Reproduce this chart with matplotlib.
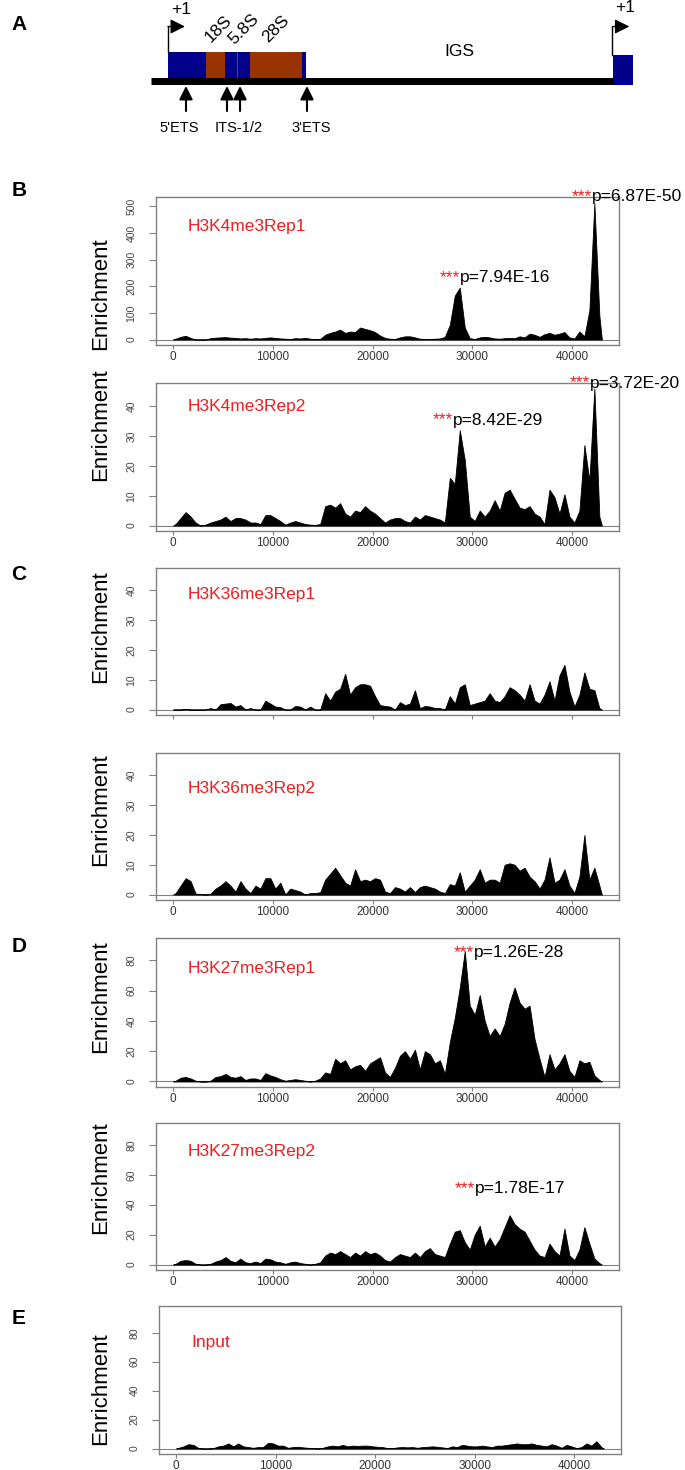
import matplotlib
matplotlib.use("Agg")
import matplotlib.pyplot as plt
import numpy as np
from matplotlib.patches import Rectangle

plt.rcParams['font.family'] = ['Liberation Sans', 'DejaVu Sans']

# ---- rDNA unit (bp) ----
region_names = ["5'ETS", "18S", "ITS1", "5.8S", "ITS2", "28S", "3'ETS"]
region_start = [0, 3657, 5528, 6623, 6780, 7935, 12970]
region_end = [3656, 5527, 6622, 6779, 7934, 12969, 13332]
region_is_rrna = [False, True, False, True, False, True, False]
unit_length = 43000
rrna_label_names = ["18S", "5.8S", "28S"]
rrna_label_pos = [4830, 7340, 10430]
probe_names = ["5'ETS", "ITS-1/2", "3'ETS"]
probe_label_pos = [1110, 6860, 13820]
probe_arrow_pos = [1740, 5700, 6960, 13430]

# ---- ChIP enrichment, 500 bp bins from 0 to 43000 ----
bin_size = 500
h3k4me3_rep1 = [3, 10, 14, 6, 0, 0, 0, 5, 7, 8,
                9, 7, 6, 4, 5, 3, 5, 4, 6, 8,
                6, 4, 3, 2, 5, 4, 6, 3, 1, 2,
                18, 25, 30, 37, 25, 30, 28, 45, 40, 35,
                28, 15, 6, 3, 2, 8, 12, 12, 8, 3,
                2, 2, 3, 4, 10, 55, 165, 195, 45, 5,
                2, 8, 10, 8, 4, 3, 5, 6, 5, 12,
                8, 22, 18, 10, 20, 25, 18, 22, 28, 8,
                4, 30, 12, 110, 512, 90]
h3k4me3_rep2 = [0.5, 2.5, 4.5, 3, 1, 0, 0.3, 1, 1.5, 2,
                3, 1.5, 2.5, 2.5, 2, 1, 1, 0.5, 3.5, 3.5,
                2.5, 1.5, 0.3, 1, 1.5, 1, 0.5, 0.3, 0.2, 0.5,
                6.5, 7, 6, 7.5, 4, 3, 5, 4.5, 6.5, 5,
                4, 2.5, 1, 2, 2.5, 2.5, 1.5, 1, 3, 2,
                3.5, 3, 2.5, 2, 1, 16, 14, 32, 22, 3,
                1.5, 5, 3, 5, 8.5, 5, 11, 12, 9, 6,
                5.5, 6.5, 4, 3, 0.5, 12, 9.5, 4, 10.5, 3,
                1, 5, 27, 15, 46, 3]
h3k36me3_rep1 = [0, 0, 0.2, 0, 0, 0, 0, 0.5, 0, 1.8,
                 2, 2.2, 1, 1.5, 0, 0.5, 0, 0, 3, 2,
                 1, 0.8, 0, 0, 1.2, 1, 0, 1, 0, 0,
                 5.5, 3, 6, 7, 12, 5, 7.5, 8.5, 8.5, 8,
                 4.5, 1.5, 1.2, 1, 0, 2.5, 1.5, 2, 6.5, 0.5,
                 1.2, 1, 0.5, 0.5, 0, 4.5, 2, 7.5, 8.5, 1.5,
                 2, 2.5, 3, 5.5, 3, 2.5, 4.5, 7.5, 6.5, 5,
                 3, 8.5, 3, 2, 5, 9.5, 3, 11.5, 15, 6,
                 1, 5, 12.5, 7, 6.5, 0.5]
h3k36me3_rep2 = [0.5, 3, 5.5, 4.5, 0.3, 0.2, 0, 0.3, 2, 3,
                 4.5, 3, 1, 4.5, 2, 0.5, 3, 2, 5.5, 5.5,
                 2, 4, 0, 2, 1.5, 1, 0, 0.5, 0.5, 0.8,
                 5, 7, 9, 6.5, 4, 3, 8.5, 4.5, 5, 4.5,
                 5.5, 5, 1, 0.5, 2.5, 2, 1, 2.5, 0.8, 2.5,
                 3, 2.5, 2, 1, 0.5, 3.5, 3, 7.5, 1, 3,
                 5, 8.5, 4, 5, 5, 4, 10, 10.5, 10, 8,
                 9, 6, 4.5, 2, 5, 12.5, 4, 5, 8.5, 3,
                 0.5, 6, 20, 5, 9, 3]
h3k27me3_rep1 = [0.5, 2.5, 3, 2, 0.5, 0, 0, 0.5, 3, 3.5,
                 5, 3, 2.5, 3.5, 1, 2, 2, 1, 5.5, 4,
                 3, 1.5, 0.5, 1, 1.5, 1, 0.5, 0, 0.5, 2,
                 6, 5, 15, 12, 14, 8, 10, 11, 7, 12,
                 14, 16, 6, 3, 9, 17, 20, 15, 21, 8,
                 20, 18, 12, 14, 5, 26, 42, 62, 86, 50,
                 44, 57, 40, 30, 35, 30, 38, 52, 62, 52,
                 48, 50, 28, 15, 3, 18, 8, 12, 18, 7,
                 3, 14, 12, 13, 4, 1]
h3k27me3_rep2 = [0.5, 2.5, 3, 2.5, 0.5, 0, 0, 0.5, 2, 3,
                 5, 2.5, 1.5, 4, 1.5, 1, 2, 1, 4, 3.5,
                 2, 1.5, 0.5, 1.5, 2, 1, 0.5, 0, 0.5, 1.5,
                 6, 8, 7, 9, 7, 5, 8, 6, 9, 7,
                 8, 6, 3, 2, 5, 7, 6, 5, 8, 5,
                 9, 11, 7, 6, 5, 14, 22, 23, 15, 10,
                 20, 26, 12, 18, 12, 17, 25, 33, 27, 24,
                 22, 16, 10, 6, 5, 14, 9, 6, 24, 6,
                 3, 10, 25, 14, 4, 1]
input_track = [0.5, 1.5, 3, 2.5, 0.3, 0, 0, 0.3, 1.5, 2,
               3.5, 1.5, 3.5, 1.5, 1, 0.5, 1, 1, 4, 3.5,
               2, 2, 0.5, 1, 1.2, 0.8, 0.5, 0.3, 0, 0.5,
               1.5, 2, 1.5, 2.5, 1.5, 2, 1.8, 2, 2, 1.5,
               1.2, 1, 0.3, 0.2, 0.8, 1, 0.8, 1, 0.5, 1,
               1.2, 1.5, 1.2, 0.8, 0.3, 1.5, 1, 2.5, 2, 1.5,
               1.5, 2, 1.5, 1, 2, 2, 2.5, 3, 3.5, 3,
               3, 3.5, 2.5, 2, 1.5, 3, 2, 0.5, 2.5, 1.5,
               0.3, 1, 3.5, 2, 5, 1]

track_names = ["H3K4me3Rep1", "H3K4me3Rep2", "H3K36me3Rep1", "H3K36me3Rep2",
               "H3K27me3Rep1", "H3K27me3Rep2", "Input"]
tracks = [h3k4me3_rep1, h3k4me3_rep2, h3k36me3_rep1, h3k36me3_rep2,
          h3k27me3_rep1, h3k27me3_rep2, input_track]
y_max = [515, 46, 45.7, 45.7, 91, 91, 94.7]
y_ticks = [np.arange(0, 501, 100), np.arange(0, 41, 10), np.arange(0, 41, 10),
           np.arange(0, 41, 10), np.arange(0, 81, 20), np.arange(0, 81, 20),
           np.arange(0, 81, 20)]

# significant peaks: (track index, position, label height, p-value)
peak_track = [0, 0, 1, 1, 4, 5]
peak_pos = [28790, 42030, 28085, 41830, 30190, 30290]
peak_height = [233, 537, 35.4, 47.8, 85, 51]
peak_pval = ["p=7.94E-16", "p=6.87E-50", "p=8.42E-29", "p=3.72E-20",
             "p=1.26E-28", "p=1.78E-17"]

# ---- layout (pixels) ----
W, H = 685, 1470
panel_top = [197, 383, 568, 753, 938, 1123, 1306]
panel_bottom = [345, 531, 715, 900, 1087, 1270, 1454]
panel_left = [156, 156, 156, 156, 156, 156, 159]
panel_right = [619, 619, 619, 619, 619, 619, 621]
name_offset = [30, 24, 27, 36, 30, 29, 36]
ylabel_center = [294, 425, 627, 810, 997, 1178, 1389]
show_xlabels = [True, True, False, True, True, True, True]
letters = ["A", "B", "C", "D", "E"]
letter_y = [25, 191, 575, 946, 1319]

GRAY = '#808080'
RED = '#F01E1E'
fig = plt.figure(figsize=(W / 100, H / 100), dpi=100)


def add_px_axes(left, top, right, bottom):
    return fig.add_axes([left / W, 1 - bottom / H, (right - left) / W, (bottom - top) / H])


# ---- panel A: rDNA schematic ----
px_per_bp = 445 / unit_length
axA = add_px_axes(0, 0, W, 140)
axA.set_xlim(-168 / px_per_bp, (W - 168) / px_per_bp)
axA.set_ylim(140, 0)
axA.axis('off')
axA.plot([-1640, unit_length], [80.5, 80.5], color='black', lw=5, solid_capstyle='butt')
for s, e, rrna in zip(region_start, region_end, region_is_rrna):
    axA.add_patch(Rectangle((s, 52), e - s + 1, 29, color='#993300' if rrna else '#00008B', lw=0))
axA.add_patch(Rectangle((unit_length, 55), 1930, 30, color='#00008B', lw=0))
for tss, top, ty in [(0, 52, 10), (unit_length - 60, 55, 8)]:
    axA.plot([tss, tss], [top, 26.5], color='black', lw=1)
    axA.annotate('', xy=(tss + 1640, 26.5), xytext=(tss, 26.5),
                 arrowprops=dict(arrowstyle='-|>', color='black', lw=1,
                                 mutation_scale=22, shrinkA=0, shrinkB=0))
    axA.text(tss + 1250, ty, '+1', ha='center', va='center', fontsize=12.5)
for name, pos in zip(rrna_label_names, rrna_label_pos):
    axA.text(pos, 29, name, rotation=45, ha='center', va='center', fontsize=12.5)
igs_mid = (region_end[-1] + unit_length) / 2
axA.text(igs_mid, 52, 'IGS', ha='center', va='center', fontsize=12.5)
for pos in probe_arrow_pos:
    axA.annotate('', xy=(pos, 86), xytext=(pos, 111),
                 arrowprops=dict(arrowstyle='-|>', color='black', lw=1.5,
                                 mutation_scale=20, shrinkA=0, shrinkB=0))
for name, pos in zip(probe_names, probe_label_pos):
    axA.text(pos, 128, name, ha='center', va='center', fontsize=10.5)

# ---- panels B-E: enrichment tracks ----
centers = np.arange(bin_size / 2, unit_length, bin_size)
axes = []
for i, vals in enumerate(tracks):
    ax = add_px_axes(panel_left[i], panel_top[i], panel_right[i], panel_bottom[i])
    axes.append(ax)
    xs = np.concatenate([[0], centers, [unit_length]])
    ys = np.concatenate([[0], vals, [0]])
    ax.fill_between(xs, ys, color='black', lw=0.6, edgecolor='black')
    ax.axhline(0, color=GRAY, lw=0.8, zorder=0)
    ax.set_xlim(-0.04 * unit_length, 1.04 * unit_length)
    ax.set_ylim(-0.04 * y_max[i], 1.04 * y_max[i])
    ax.set_xticks(np.arange(0, 40001, 10000))
    ax.set_yticks(y_ticks[i])
    for sp in ax.spines.values():
        sp.set_color(GRAY)
        sp.set_linewidth(1.0)
    ax.tick_params(axis='x', length=3, pad=1, color=GRAY, labelsize=8.5,
                   labelcolor='#333333', labelbottom=show_xlabels[i])
    ax.tick_params(axis='y', length=5, pad=9, color=GRAY, labelsize=7.5,
                   labelcolor='#444444')
    for lbl in ax.get_yticklabels():
        lbl.set_rotation(90)
        lbl.set_va('center')
    ax.text(1500, 1.04 * y_max[i] - name_offset[i] / 148 * 1.08 * y_max[i],
            track_names[i], color=RED, fontsize=12.5, ha='left', va='center')
    fig.text(101 / W, 1 - ylabel_center[i] / H, 'Enrichment', rotation=90,
             ha='center', va='center', fontsize=16)

for t, pos, h, pv in zip(peak_track, peak_pos, peak_height, peak_pval):
    ax = axes[t]
    ax.text(pos, h, '***', color=RED, fontsize=12.5, ha='right', va='center', clip_on=False)
    ax.text(pos, h, pv, color='black', fontsize=12.5, ha='left', va='center', clip_on=False)

for letter, y in zip(letters, letter_y):
    fig.text(19 / W, 1 - y / H, letter, fontsize=15, fontweight='bold', ha='center', va='center')

fig.savefig('out.png', dpi=100)
